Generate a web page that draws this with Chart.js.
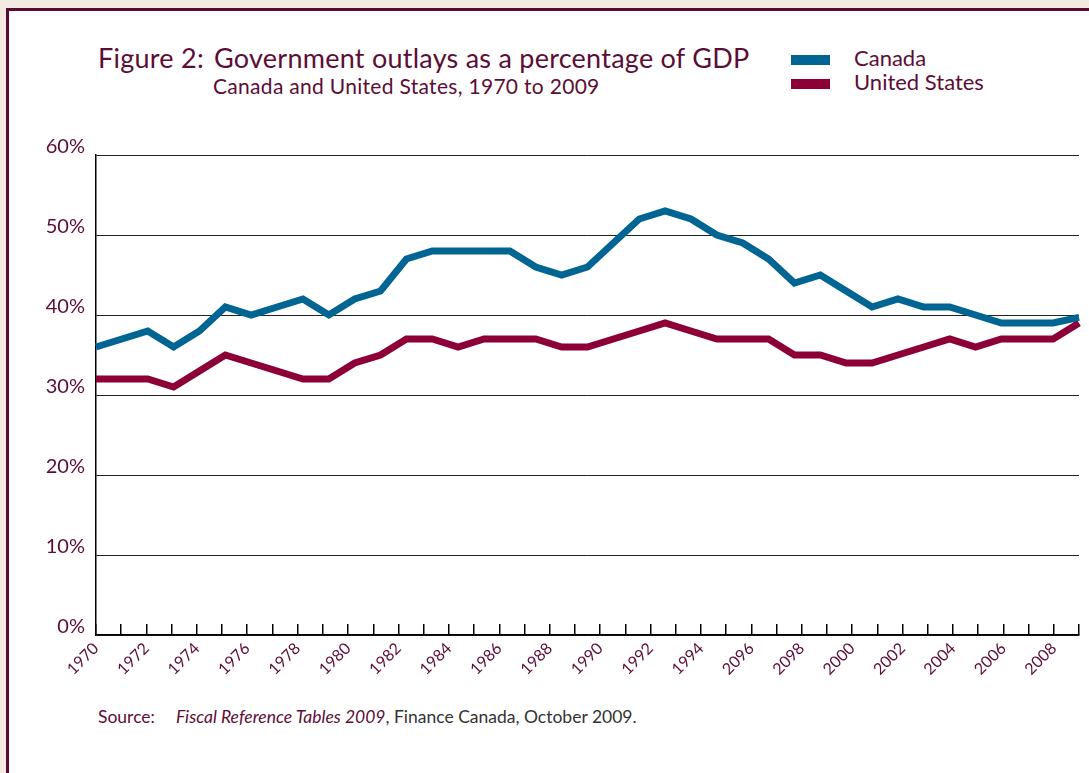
<!DOCTYPE html>
<html>
<head>
<meta charset="utf-8">
<script src="https://cdn.jsdelivr.net/npm/chart.js@4"></script>
<style>
  html, body { margin: 0; padding: 0; }
  body { width: 1089px; height: 773px; background: #f3ebe1; position: relative; overflow: hidden;
         font-family: Lato, "Open Sans", sans-serif; color: #5c0d36; }
  .panel { position: absolute; left: 6px; top: 8px; width: 1100px; height: 800px; background: #fff;
           border-left: 3px solid #5a0a33; border-top: 3px solid #5a0a33; }
  .title { position: absolute; left: 98px; top: 41px; font-size: 27px; letter-spacing: 0.25px; white-space: nowrap; }
  .title .fig { display: inline-block; width: 116px; }
  .subtitle { position: absolute; left: 213px; top: 73px; font-size: 21px; letter-spacing: 0.3px; white-space: nowrap; }
  .legend { position: absolute; left: 791px; top: 46px; font-size: 22px; }
  .legend div { position: relative; height: 24px; line-height: 24px; padding-left: 63px; white-space: nowrap; }
  .legend span { position: absolute; left: 0; top: 9px; width: 39px; height: 10px; }
  .source { position: absolute; left: 98px; top: 706px; font-size: 17.5px; white-space: nowrap; }
  .source i { margin-left: 21px; }
  .source .rest { color: #333; }
  #chartBox { position: absolute; left: 0; top: 0; width: 1089px; height: 773px; }
</style>
</head>
<body>
<div class="panel"></div>
<div class="title"><span class="fig">Figure 2:</span>Government outlays as a percentage of GDP</div>
<div class="subtitle">Canada and United States, 1970 to 2009</div>
<div class="legend">
  <div><span style="background:#006592"></span>Canada</div>
  <div><span style="background:#8c0037"></span>United States</div>
</div>
<div class="source">Source:<i>Fiscal Reference Tables 2009</i><span class="rest">, Finance Canada, October 2009.</span></div>
<div id="chartBox"><canvas id="myChart"></canvas></div>

<script>
// 데이터 포인트 (1970~2008, 39개)
var years = [1970, 1971, 1972, 1973, 1974, 1975, 1976, 1977, 1978, 1979,
             1980, 1981, 1982, 1983, 1984, 1985, 1986, 1987, 1988, 1989,
             1990, 1991, 1992, 1993, 1994, 1995, 1996, 1997, 1998, 1999,
             2000, 2001, 2002, 2003, 2004, 2005, 2006, 2007, 2008];
var canada = [36, 37, 38, 36, 38, 41, 40, 41, 42, 40,
              42, 43, 47, 48, 48, 48, 48, 46, 45, 46,
              49, 52, 53, 52, 50, 49, 47, 44, 45, 43,
              41, 42, 41, 41, 40, 39, 39, 39, 39.7];
var unitedStates = [32, 32, 32, 31, 33, 35, 34, 33, 32, 32,
                    34, 35, 37, 37, 36, 37, 37, 37, 36, 36,
                    37, 38, 39, 38, 37, 37, 37, 35, 35, 34,
                    34, 35, 36, 37, 36, 37, 37, 37, 39];
// x축 눈금 라벨 (2년마다, 원본 그대로)
var tickLabels = ['1970', '1972', '1974', '1976', '1978', '1980', '1982', '1984', '1986', '1988',
                  '1990', '1992', '1994', '2096', '2098', '2000', '2002', '2004', '2006', '2008'];
var tickCount = 40; // 눈금 개수 (1970~2009)
var yTicks = [0, 10, 20, 30, 40, 50, 60];

var textColor = '#5c0d36';

var chartArea = document.getElementById('myChart').getContext('2d');
var myChart = new Chart(chartArea, {
  type: 'line',
  data: {
    labels: years,
    datasets: [{
      label: 'Canada',
      data: canada,
      borderColor: '#006592',
      backgroundColor: '#006592',
      borderWidth: 7,
      pointRadius: 0,
      tension: 0
    }, {
      label: 'United States',
      data: unitedStates,
      borderColor: '#8c0037',
      backgroundColor: '#8c0037',
      borderWidth: 7,
      pointRadius: 0,
      tension: 0
    }]
  },
  options: {
    responsive: true,
    maintainAspectRatio: false,
    animation: false,
    layout: { padding: { left: 36, right: 10, top: 155, bottom: 78 } },
    plugins: {
      legend: { display: false },
      tooltip: { enabled: false }
    },
    scales: {
      x: {
        display: false,
        offset: false
      },
      yearAxis: {
        type: 'linear',
        position: 'bottom',
        min: 0,
        max: tickCount - 1,
        // 회전된 라벨 때문에 생기는 오른쪽 여백 제거
        afterFit: function (scale) { scale.height = 60; scale.paddingRight = 0; },
        border: { display: true, color: '#000', width: 1.5 },
        grid: { drawOnChartArea: false, drawTicks: true, tickLength: -11, color: '#000', lineWidth: 1.5 },
        ticks: {
          stepSize: 1,
          maxTicksLimit: tickCount,
          autoSkip: false,
          maxRotation: 45,
          minRotation: 45,
          padding: 15,
          color: textColor,
          font: { family: 'Lato', size: 16 },
          callback: function (v) { return v % 2 === 0 ? tickLabels[v / 2] : ''; }
        }
      },
      y: {
        min: yTicks[0],
        max: yTicks[yTicks.length - 1],
        afterFit: function (scale) { scale.width = 60; },
        border: { display: true, color: '#000', width: 1.5 },
        grid: { color: '#222', lineWidth: 1, drawTicks: false },
        afterBuildTicks: function (scale) { scale.ticks = yTicks.map(function (v) { return { value: v }; }); },
        ticks: {
          padding: 11,
          labelOffset: -8,
          color: textColor,
          font: { family: 'Lato', size: 20 },
          callback: function (v) { return v + '%'; }
        }
      }
    }
  }
});
</script>
</body>
</html>
